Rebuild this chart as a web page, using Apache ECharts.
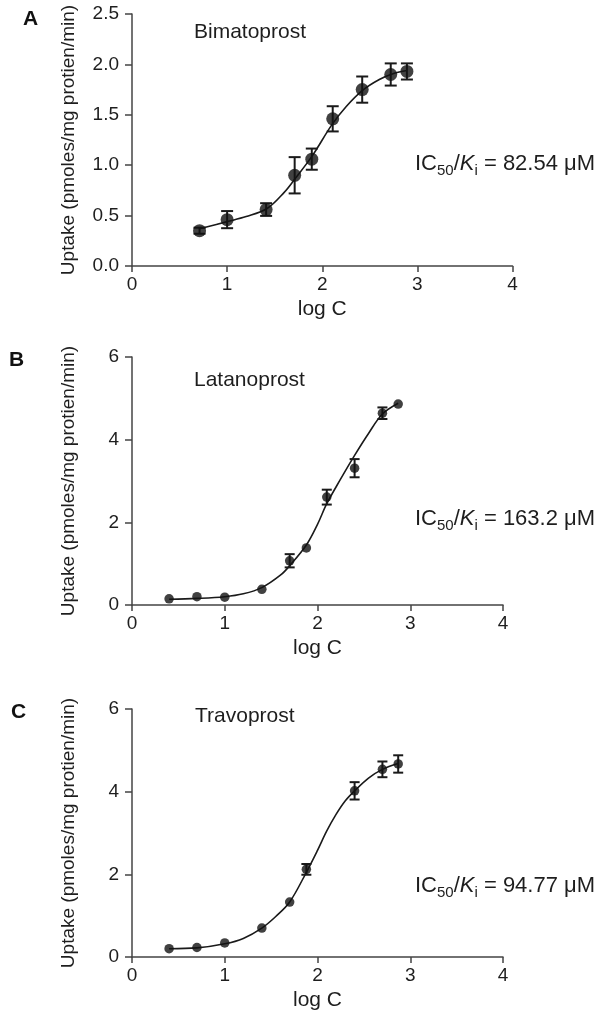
<!DOCTYPE html>
<html>
<head>
<meta charset="utf-8">
<script src="https://cdn.jsdelivr.net/npm/echarts@6/dist/echarts.min.js"></script>
<style>
html,body{margin:0;padding:0;background:#fff;}
#main{width:609px;height:1020px;}
</style>
</head>
<body>
<div id="main"></div>
<script>
// ---- Data ----
const panelLetters = ['A', 'B', 'C'];
const drugNames = ['Bimatoprost', 'Latanoprost', 'Travoprost'];
const icValues = ['82.54', '163.2', '94.77'];
const yTitle = 'Uptake (pmoles/mg protien/min)';
const xTitle = 'log C';

const bimaLogC   = [0.71, 1.0, 1.41, 1.71, 1.89, 2.11, 2.42, 2.72, 2.89];
const bimaUptake = [0.35, 0.46, 0.56, 0.90, 1.06, 1.46, 1.75, 1.90, 1.93];
const bimaErr    = [0.03, 0.085, 0.063, 0.18, 0.105, 0.125, 0.13, 0.11, 0.08];
const bimaCurveX = [0.71, 1.0, 1.2, 1.42, 1.6, 1.71, 1.9, 2.1, 2.25, 2.42, 2.6, 2.75, 2.89];
const bimaCurveY = [0.37, 0.44, 0.49, 0.57, 0.73, 0.86, 1.1, 1.40, 1.58, 1.74, 1.85, 1.91, 1.94];

const lataLogC   = [0.4, 0.7, 1.0, 1.4, 1.7, 1.88, 2.1, 2.4, 2.7, 2.87];
const lataUptake = [0.15, 0.2, 0.19, 0.38, 1.07, 1.38, 2.61, 3.31, 4.64, 4.86];
const lataErr    = [0, 0, 0, 0, 0.16, 0, 0.18, 0.22, 0.14, 0];
const lataCurveX = [0.4, 0.7, 1.0, 1.2, 1.4, 1.6, 1.7, 1.88, 2.0, 2.1, 2.25, 2.4, 2.55, 2.7, 2.87];
const lataCurveY = [0.14, 0.16, 0.2, 0.27, 0.42, 0.72, 0.95, 1.45, 1.95, 2.45, 3.05, 3.62, 4.15, 4.62, 4.88];

const travoLogC   = [0.4, 0.7, 1.0, 1.4, 1.7, 1.88, 2.4, 2.7, 2.87];
const travoUptake = [0.20, 0.23, 0.34, 0.70, 1.33, 2.12, 4.02, 4.54, 4.67];
const travoErr    = [0, 0, 0, 0, 0, 0.13, 0.21, 0.19, 0.21];
const travoCurveX = [0.4, 0.7, 1.0, 1.2, 1.4, 1.55, 1.7, 1.88, 2.0, 2.1, 2.2, 2.3, 2.4, 2.55, 2.7, 2.87];
const travoCurveY = [0.2, 0.22, 0.32, 0.45, 0.7, 0.98, 1.33, 2.05, 2.58, 3.05, 3.45, 3.78, 4.02, 4.33, 4.54, 4.68];

const yMax = [2.5, 6, 6];
const yInterval = [0.5, 2, 2];

// ---- Build chart ----
const FONT = '"Liberation Sans", Arial, Helvetica, sans-serif';
const AXIS_COLOR = '#444';
const TEXT_COLOR = '#1e1e1e';

const panels = [
  {x: bimaLogC, y: bimaUptake, e: bimaErr, cx: bimaCurveX, cy: bimaCurveY, sym: 13, cap: 6},
  {x: lataLogC, y: lataUptake, e: lataErr, cx: lataCurveX, cy: lataCurveY, sym: 9.5, cap: 5},
  {x: travoLogC, y: travoUptake, e: travoErr, cx: travoCurveX, cy: travoCurveY, sym: 9.5, cap: 5}
];
const grids = [
  {left: 132, top: 14, width: 380.5, height: 252},
  {left: 132, top: 357, width: 371, height: 248},
  {left: 132, top: 709, width: 371, height: 248}
];

const option = {
  animation: false,
  backgroundColor: '#fff',
  textStyle: {fontFamily: FONT},
  grid: grids.map(g => Object.assign({containLabel: false}, g)),
  xAxis: grids.map((g, i) => ({
    gridIndex: i, type: 'value', min: 0, max: 4, interval: 1,
    name: xTitle, nameLocation: 'middle', nameGap: 33,
    nameTextStyle: {fontSize: 21, color: TEXT_COLOR, fontFamily: FONT},
    axisLine: {show: true, onZero: false, lineStyle: {color: AXIS_COLOR, width: 1.5}},
    axisTick: {show: true, length: 6, lineStyle: {color: AXIS_COLOR, width: 1.5}},
    axisLabel: {fontSize: 19, color: TEXT_COLOR, margin: 9, fontFamily: FONT},
    splitLine: {show: false}
  })),
  yAxis: grids.map((g, i) => ({
    gridIndex: i, type: 'value', min: 0, max: yMax[i], interval: yInterval[i],
    name: yTitle, nameLocation: 'middle', nameGap: 54, nameRotate: 90,
    nameTextStyle: {fontSize: 19, color: TEXT_COLOR, fontFamily: FONT},
    axisLine: {show: true, onZero: false, lineStyle: {color: AXIS_COLOR, width: 1.5}},
    axisTick: {show: true, length: 7, lineStyle: {color: AXIS_COLOR, width: 1.5}},
    axisLabel: {fontSize: 19, color: TEXT_COLOR, margin: 13, fontFamily: FONT,
      formatter: v => i === 0 ? v.toFixed(1) : String(v)},
    splitLine: {show: false}
  })),
  series: [],
  graphic: []
};

panels.forEach((p, i) => {
  option.series.push({
    type: 'line', xAxisIndex: i, yAxisIndex: i,
    data: p.cx.map((v, k) => [v, p.cy[k]]),
    smooth: 0.35, showSymbol: false, symbol: 'none',
    lineStyle: {color: '#1a1a1a', width: 1.6}, z: 2
  });
  option.series.push({
    type: 'custom', xAxisIndex: i, yAxisIndex: i,
    data: p.x.map((v, k) => [v, p.y[k], p.e[k]]),
    renderItem: (params, api) => {
      const xv = api.value(0), yv = api.value(1), ev = api.value(2);
      if (!ev) return null;
      const top = api.coord([xv, yv + ev]);
      const bot = api.coord([xv, yv - ev]);
      const c = p.cap;
      const st = {stroke: '#1a1a1a', lineWidth: 2};
      return {type: 'group', children: [
        {type: 'line', shape: {x1: top[0], y1: top[1], x2: bot[0], y2: bot[1]}, style: st},
        {type: 'line', shape: {x1: top[0]-c, y1: top[1], x2: top[0]+c, y2: top[1]}, style: st},
        {type: 'line', shape: {x1: bot[0]-c, y1: bot[1], x2: bot[0]+c, y2: bot[1]}, style: st}
      ]};
    },
    z: 3
  });
  option.series.push({
    type: 'scatter', xAxisIndex: i, yAxisIndex: i,
    data: p.x.map((v, k) => [v, p.y[k]]),
    symbol: 'circle', symbolSize: p.sym,
    itemStyle: {color: '#111'}, z: 4
  });
});

// Panel letters, drug names, IC50 annotations
const letterPos = [[23, 20], [9, 361], [11, 713]];
const namePos = [[194, 34], [194, 382], [195, 718]];
const icPos = [[415, 168], [415, 523], [415, 890]];
panelLetters.forEach((L, i) => {
  option.graphic.push({
    type: 'text', left: letterPos[i][0], top: letterPos[i][1] - 11,
    style: {text: L, font: 'bold 21px ' + FONT, fill: '#111'}
  });
  option.graphic.push({
    type: 'text', left: namePos[i][0], top: namePos[i][1] - 12,
    style: {text: drugNames[i], font: '21px ' + FONT, fill: TEXT_COLOR}
  });
  option.graphic.push({
    type: 'text', left: icPos[i][0], top: icPos[i][1] - 15,
    style: {
      text: '{m|IC}{s|50}{m|/}{k|K}{s|i}{m| = ' + icValues[i] + ' μM}',
      rich: {
        m: {fontSize: 22, fontFamily: FONT, fill: TEXT_COLOR, lineHeight: 29, verticalAlign: 'middle'},
        k: {fontSize: 22, fontFamily: FONT, fontStyle: 'italic', fill: TEXT_COLOR, lineHeight: 29, verticalAlign: 'middle'},
        s: {fontSize: 15, fontFamily: FONT, fill: TEXT_COLOR, lineHeight: 15, verticalAlign: 'bottom'}
      }
    }
  });
});

const chart = echarts.init(document.getElementById('main'), null, {renderer: 'canvas'});
chart.setOption(option);
</script>
</body>
</html>
